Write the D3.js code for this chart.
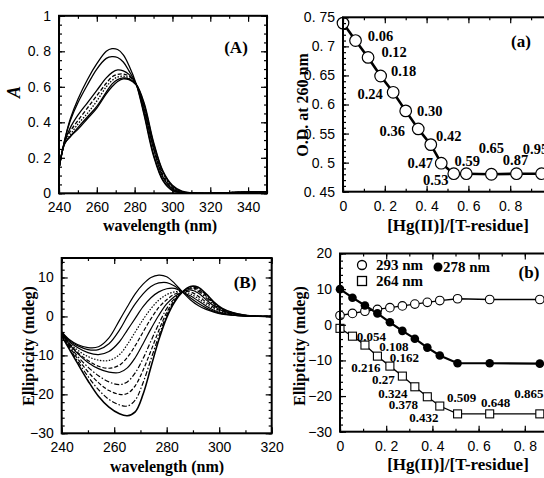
<!DOCTYPE html>
<html>
<head>
<meta charset="utf-8">
<script src="https://cdn.jsdelivr.net/npm/d3@7"></script>
<style>
  body { margin: 0; background: #fff; }
  svg { display: block; }
  .tick text { font-family: "Liberation Sans", Arial, sans-serif; font-size: 14px; fill: #000; }
  .lbl { font-family: "Liberation Serif", "Times New Roman", serif; font-weight: bold; fill: #000; }
</style>
</head>
<body>
<svg id="chart" width="544" height="478"></svg>
<script>
// ---- Panel (A): UV absorption spectra ----
let waveA = [240, 243, 246, 250, 255, 260, 265, 268, 271, 274, 277, 281, 285, 290, 295, 300, 305, 310, 320, 330, 340, 350];
let absA = [
    [0.14, 0.30, 0.42, 0.53, 0.64, 0.73, 0.80, 0.815, 0.81, 0.78, 0.72, 0.61, 0.44, 0.21, 0.07, 0.015, 0.003, 0, 0, 0.004, 0.007, 0.009],
    [0.14, 0.30, 0.41, 0.51, 0.61, 0.70, 0.76, 0.77, 0.765, 0.74, 0.69, 0.61, 0.45, 0.22, 0.075, 0.018, 0.004, 0, 0, 0.004, 0.007, 0.009],
    [0.14, 0.29, 0.37, 0.44, 0.51, 0.58, 0.65, 0.68, 0.695, 0.69, 0.67, 0.61, 0.47, 0.25, 0.09, 0.025, 0.005, 0.001, 0, 0.004, 0.007, 0.009],
    [0.14, 0.29, 0.35, 0.41, 0.48, 0.55, 0.62, 0.655, 0.67, 0.672, 0.66, 0.61, 0.48, 0.26, 0.10, 0.03, 0.006, 0.001, 0, 0.004, 0.007, 0.009],
    [0.14, 0.28, 0.33, 0.39, 0.45, 0.52, 0.60, 0.635, 0.655, 0.66, 0.65, 0.61, 0.49, 0.27, 0.11, 0.035, 0.008, 0.002, 0, 0.004, 0.007, 0.009],
    [0.14, 0.28, 0.32, 0.37, 0.43, 0.49, 0.57, 0.615, 0.64, 0.65, 0.645, 0.61, 0.50, 0.28, 0.12, 0.04, 0.01, 0.002, 0, 0.004, 0.007, 0.009],
    [0.14, 0.28, 0.32, 0.36, 0.42, 0.48, 0.56, 0.60, 0.63, 0.645, 0.64, 0.61, 0.51, 0.29, 0.125, 0.045, 0.012, 0.003, 0, 0.004, 0.007, 0.009]
];
let dashA = ["", "", "", "4,2", "1.5,1.5", "", ""];

// ---- Panel (a): O.D. at 260 nm vs ratio ----
let ratioA = [0, 0.06, 0.12, 0.18, 0.24, 0.30, 0.36, 0.42, 0.47, 0.53, 0.59, 0.71, 0.83, 0.95];
let odA = [0.74, 0.71, 0.681, 0.649, 0.621, 0.589, 0.558, 0.531, 0.499, 0.481, 0.481, 0.480, 0.481, 0.481];
let noteA = ["0.06", "0.12", "0.18", "0.24", "0.30", "0.36", "0.42", "0.47", "0.53", "0.59", "0.65", "0.87", "0.95"];

// ---- Panel (B): CD spectra ----
let waveB = [240, 243, 246, 250, 254, 258, 262, 265, 268, 271, 274, 277, 280, 283, 286, 289, 292, 295, 298, 301, 305, 310, 315, 320];
let cdB = [
    [-4.0, -6.0, -7.2, -8.0, -7.8, -5.5, -1.0, 2.5, 5.8, 8.3, 10.0, 10.6, 10.2, 8.5, 6.3, 4.3, 2.8, 1.8, 1.1, 0.6, 0.3, 0.1, 0, 0],
    [-4.0, -6.2, -7.5, -8.5, -8.5, -7.0, -3.5, 0.0, 3.2, 5.8, 7.7, 8.6, 8.7, 7.8, 6.3, 4.8, 3.4, 2.2, 1.3, 0.7, 0.3, 0.1, 0, 0],
    [-4.2, -6.5, -8.0, -9.3, -9.8, -9.0, -6.5, -3.5, -0.5, 2.5, 4.8, 6.3, 7.1, 7.2, 6.3, 5.3, 4.0, 2.7, 1.6, 0.9, 0.4, 0.1, 0, 0],
    [-4.3, -6.8, -8.6, -10.3, -11.2, -11.3, -9.8, -7.2, -4.0, -0.8, 2.0, 4.2, 5.6, 6.3, 6.3, 5.8, 4.6, 3.2, 2.0, 1.1, 0.5, 0.15, 0, 0],
    [-4.4, -7.0, -9.2, -11.3, -12.8, -13.3, -12.5, -10.5, -7.5, -4.0, -0.6, 2.3, 4.3, 5.7, 6.3, 6.3, 5.2, 3.7, 2.3, 1.3, 0.6, 0.2, 0.05, 0],
    [-4.5, -7.2, -9.5, -11.8, -13.4, -14.3, -14.4, -13.2, -10.6, -7.0, -3.2, 0.3, 3.2, 5.1, 6.3, 6.8, 6.0, 4.3, 2.7, 1.5, 0.7, 0.2, 0.05, 0],
    [-4.6, -7.5, -10.2, -13.0, -15.2, -16.8, -17.5, -16.8, -14.5, -10.8, -6.3, -1.9, 2.0, 4.6, 6.3, 7.1, 6.5, 4.8, 3.0, 1.7, 0.8, 0.25, 0.05, 0],
    [-4.7, -7.8, -10.8, -14.2, -17.0, -19.0, -20.0, -19.8, -17.8, -13.8, -8.8, -3.6, 1.0, 4.2, 6.3, 7.3, 6.9, 5.2, 3.3, 1.9, 0.9, 0.3, 0.05, 0],
    [-4.8, -8.1, -11.4, -15.4, -18.8, -21.3, -22.7, -23.0, -21.5, -17.0, -11.0, -5.0, 0.3, 3.9, 6.3, 7.5, 7.2, 5.5, 3.5, 2.0, 1.0, 0.3, 0.05, 0],
    [-5.0, -8.5, -12.0, -16.5, -20.5, -23.3, -25.0, -25.5, -24.5, -20.0, -13.0, -6.0, -0.3, 3.7, 6.3, 7.7, 7.5, 5.8, 3.7, 2.1, 1.0, 0.3, 0.05, 0]
];
let dashB = ["", "", "", "1.5,1.5", "4,2", "", "5,2,1.5,2", "4,2", "5,2,1.5,2", ""];

// ---- Panel (b): ellipticity vs ratio ----
let ratioB = [0, 0.054, 0.108, 0.162, 0.216, 0.27, 0.324, 0.378, 0.432, 0.509, 0.648, 0.865];
let cd293 = [2.6, 3.2, 3.8, 4.3, 4.8, 5.3, 5.8, 6.3, 6.8, 7.3, 7.1, 7.1];
let cd278 = [10.0, 7.6, 5.4, 3.2, 0.7, -1.7, -3.9, -6.4, -8.6, -10.8, -10.8, -10.9];
let cd264 = [-1.0, -3.2, -5.7, -8.8, -11.6, -14.4, -17.4, -20.2, -22.8, -25.0, -25.0, -25.0];
let noteB = ["0.054", "0.108", "0.162", "0.216", "0.27", "0.324", "0.378", "0.432", "0.509", "0.648", "0.865"];

let svg = d3.select('#chart');

// tick text like "0. 75", minus sign as in the original
let fmt = d => String(+d.toFixed(2)).replace(".", ". ").replace("-", "\u2212");

// inward ticks on all four sides plus a heavy frame
// (xLabeled = major ticks that carry a number; the rest are bare)
let drawFrame = (g, x, y, xMajor, xMinor, yMajor, yMinor, xLabeled) => {
    let [xl, xr] = x.range(), [yb, yt] = y.range();
    let strip = sel => sel.select('.domain').remove();
    let xFmt = d => (xLabeled && !xLabeled(d)) ? '' : fmt(d);
    g.append('g').attr('transform', `translate(0,${yb})`)
        .call(d3.axisBottom(x).tickValues(xMinor).tickSize(-3).tickFormat('')).call(strip);
    g.append('g').attr('transform', `translate(0,${yb})`)
        .call(d3.axisBottom(x).tickValues(xMajor).tickSize(-6).tickPadding(9).tickFormat(xFmt)).call(strip);
    g.append('g').attr('transform', `translate(0,${yt})`)
        .call(d3.axisTop(x).tickValues(xMinor).tickSize(-3).tickFormat('')).call(strip);
    g.append('g').attr('transform', `translate(0,${yt})`)
        .call(d3.axisTop(x).tickValues(xMajor).tickSize(-6).tickFormat('')).call(strip);
    g.append('g').attr('transform', `translate(${xl},0)`)
        .call(d3.axisLeft(y).tickValues(yMinor).tickSize(-3).tickFormat('')).call(strip);
    g.append('g').attr('transform', `translate(${xl},0)`)
        .call(d3.axisLeft(y).tickValues(yMajor).tickSize(-6).tickPadding(8).tickFormat(fmt)).call(strip);
    g.append('g').attr('transform', `translate(${xr},0)`)
        .call(d3.axisRight(y).tickValues(yMinor).tickSize(-3).tickFormat('')).call(strip);
    g.append('g').attr('transform', `translate(${xr},0)`)
        .call(d3.axisRight(y).tickValues(yMajor).tickSize(-6).tickFormat('')).call(strip);
    g.selectAll('.tick line').attr('stroke', '#000').attr('stroke-width', 1.2);
    g.append('rect')
        .attr('x', xl).attr('y', yt).attr('width', xr - xl).attr('height', yb - yt)
        .attr('fill', 'none').attr('stroke', '#000').attr('stroke-width', 2);
};

let addClip = (id, x, y) => {
    let [xl, xr] = x.range(), [yb, yt] = y.range();
    svg.append('clipPath').attr('id', id).append('rect')
        .attr('x', xl).attr('y', yt).attr('width', xr - xl).attr('height', yb - yt);
};

let text = (g, s, x, y, size, opts = {}) => {
    let t = g.append('text').attr('class', 'lbl').attr('x', x).attr('y', y)
        .attr('font-size', size).attr('text-anchor', opts.anchor || 'middle').text(s);
    if (opts.rotate) t.attr('transform', `rotate(-90,${x},${y})`);
    if (opts.italic) t.attr('font-style', 'italic').attr('font-weight', 'normal');
    return t;
};

// only ratio ticks up to 0.8 are numbered, 1 lies past the cropped edge
let upTo08 = d => d < 0.85;

// ================= (A) =================
let xA = d3.scaleLinear().domain([240, 350]).range([59, 267]);
let yA = d3.scaleLinear().domain([0, 1]).range([193.3, 15.8]);
let gA = svg.append('g');
addClip('clipA', xA, yA);
let lineA = d3.line().x((d, i) => xA(waveA[i])).y(d => yA(d)).curve(d3.curveCatmullRom.alpha(0.5));
gA.append('g').attr('clip-path', 'url(#clipA)')
    .selectAll('path').data(absA).enter().append('path')
    .attr('d', lineA)
    .attr('fill', 'none').attr('stroke', '#000').attr('stroke-width', 1.3)
    .attr('stroke-dasharray', (d, i) => dashA[i]);
drawFrame(gA, xA, yA, d3.range(240, 351, 20), d3.range(240, 351, 10),
    d3.range(0, 1.01, 0.2), d3.range(0, 1.01, 0.05));
text(gA, '(A)', 236, 53, 17);
text(gA, 'wavelength (nm)', 160, 231, 16);
text(gA, 'A', 20, 92, 18, { rotate: true, italic: true });

// ================= (a) =================
let xa = d3.scaleLinear().domain([0, 1.15]).range([343, 343 + 1.15 * 209]);
let ya = d3.scaleLinear().domain([0.45, 0.75]).range([191.7, 17.3]);
let ga = svg.append('g');
let ptsA = ratioA.map((r, i) => [xa(r), ya(odA[i])]);
ga.append('path').attr('d', d3.line()(ptsA))
    .attr('fill', 'none').attr('stroke', '#000').attr('stroke-width', 2.6);
ga.selectAll('circle').data(ptsA).enter().append('circle')
    .attr('cx', d => d[0]).attr('cy', d => d[1]).attr('r', 5.8)
    .attr('fill', '#fff').attr('stroke', '#000').attr('stroke-width', 1.2);
let offA = [[25, -5], [26, -5], [23, -5], [-23, 2], [24, 0], [-26, 2], [18, -9], [-21, 0], [-18, 6], [1, -13], [0, -26], [-1, -14], [-6, -25]];
ga.selectAll('text.note').data(noteA).enter().append('text')
    .attr('class', 'lbl note').attr('font-size', 14.5).attr('text-anchor', 'middle')
    .attr('x', (d, i) => ptsA[i + 1][0] + offA[i][0])
    .attr('y', (d, i) => ptsA[i + 1][1] + offA[i][1] + 5)
    .text(d => d);
drawFrame(ga, xa, ya, d3.range(0, 1.01, 0.2), d3.range(0, 1.15, 0.1),
    d3.range(0.45, 0.751, 0.05), d3.range(0.45, 0.751, 0.01), upTo08);
text(ga, '(a)', 521, 47, 17);
text(ga, '[Hg(II)]/[T-residue]', 458, 231, 17);
text(ga, 'O.D. at 260 nm', 308, 105, 16, { rotate: true });

// ================= (B) =================
let xB = d3.scaleLinear().domain([240, 320]).range([61.7, 271.7]);
let yB = d3.scaleLinear().domain([-30, 15]).range([433.3, 258]);
let gB = svg.append('g');
addClip('clipB', xB, yB);
let lineB = d3.line().x((d, i) => xB(waveB[i])).y(d => yB(d)).curve(d3.curveCatmullRom.alpha(0.5));
gB.append('g').attr('clip-path', 'url(#clipB)')
    .selectAll('path').data(cdB).enter().append('path')
    .attr('d', lineB)
    .attr('fill', 'none').attr('stroke', '#000')
    .attr('stroke-width', (d, i) => i === cdB.length - 1 ? 1.6 : 1.2)
    .attr('stroke-dasharray', (d, i) => dashB[i]);
drawFrame(gB, xB, yB, d3.range(240, 321, 20), d3.range(240, 321, 10),
    d3.range(-30, 11, 10), d3.range(-30, 15.1, 2));
text(gB, '(B)', 245, 288, 17);
text(gB, 'wavelength (nm)', 167, 472, 16);
text(gB, 'Ellipticity (mdeg)', 34, 346, 16, { rotate: true });

// ================= (b) =================
let xb = d3.scaleLinear().domain([0, 1.05]).range([340, 340 + 1.05 * 231]);
let yb = d3.scaleLinear().domain([-30, 20]).range([431.7, 253.5]);
let gb = svg.append('g');
let pts = arr => ratioB.map((r, i) => [xb(r), yb(arr[i])]);
let p293 = pts(cd293), p278 = pts(cd278), p264 = pts(cd264);
gb.append('path').attr('d', d3.line()(p293)).attr('fill', 'none').attr('stroke', '#000').attr('stroke-width', 1.3);
gb.append('path').attr('d', d3.line()(p278)).attr('fill', 'none').attr('stroke', '#000').attr('stroke-width', 2.2);
gb.append('path').attr('d', d3.line()(p264)).attr('fill', 'none').attr('stroke', '#000').attr('stroke-width', 1.3);
gb.selectAll('circle.o').data(p293).enter().append('circle').attr('class', 'o')
    .attr('cx', d => d[0]).attr('cy', d => d[1]).attr('r', 4.3)
    .attr('fill', '#fff').attr('stroke', '#000').attr('stroke-width', 1.1);
gb.selectAll('circle.f').data(p278).enter().append('circle').attr('class', 'f')
    .attr('cx', d => d[0]).attr('cy', d => d[1]).attr('r', 4.3).attr('fill', '#000');
gb.selectAll('rect.s').data(p264).enter().append('rect').attr('class', 's')
    .attr('x', d => d[0] - 4).attr('y', d => d[1] - 4).attr('width', 8).attr('height', 8)
    .attr('fill', '#fff').attr('stroke', '#000').attr('stroke-width', 1.1);
let offB = [[19, 0], [29, 1], [27, 1], [-24, 1], [-19, 3], [-22, 6], [-24, 7], [-16, 11], [4, -17], [6, -12], [-11, -21]];
gb.selectAll('text.note').data(noteB).enter().append('text')
    .attr('class', 'lbl note').attr('font-size', 13).attr('text-anchor', 'middle')
    .attr('x', (d, i) => p264[i + 1][0] + offB[i][0])
    .attr('y', (d, i) => p264[i + 1][1] + offB[i][1] + 5)
    .text(d => d);
drawFrame(gb, xb, yb, d3.range(0, 1.01, 0.2), d3.range(0, 1.05, 0.1),
    d3.range(-30, 20.1, 10), d3.range(-30, 20.1, 2), upTo08);

// legend
gb.append('circle').attr('cx', 362).attr('cy', 265).attr('r', 4.5)
    .attr('fill', '#fff').attr('stroke', '#000').attr('stroke-width', 1.3);
text(gb, '293 nm', 376, 270, 15, { anchor: 'start' });
gb.append('circle').attr('cx', 438).attr('cy', 267).attr('r', 4.5).attr('fill', '#000');
text(gb, '278 nm', 443, 272, 15, { anchor: 'start' });
gb.append('rect').attr('x', 357.5).attr('y', 276.5).attr('width', 9).attr('height', 9)
    .attr('fill', '#fff').attr('stroke', '#000').attr('stroke-width', 1.3);
text(gb, '264 nm', 376, 286, 15, { anchor: 'start' });
text(gb, '(b)', 529, 278, 17);
text(gb, '[Hg(II)]/[T-residue]', 458, 470, 17);
text(gb, 'Ellipticity (mdeg)', 305, 346, 16, { rotate: true });
</script>
</body>
</html>
